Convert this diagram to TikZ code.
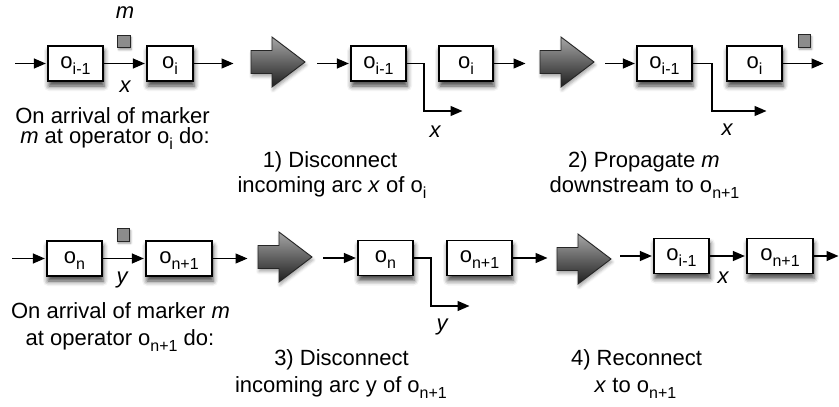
\documentclass[tikz,border=0pt]{standalone}
\usepackage{fontspec}
\setmainfont{Liberation Sans}
\usetikzlibrary{arrows.meta,shadows.blur}
\newcommand{\osub}[1]{\raisebox{-6pt}{\fontsize{16}{16}\selectfont #1}}
\begin{document}
\begin{tikzpicture}[x=1pt,y=-1pt,
  every node/.style={font=\fontsize{22}{24}\selectfont},
  opbox/.style={draw=black, line width=1.3pt, fill=white, inner sep=0pt, minimum height=35pt,
    text height=15pt, text depth=6pt,
    blur shadow={shadow xshift=1pt,shadow yshift=-5pt,shadow blur radius=5pt,shadow opacity=75}},
  conn/.style={line width=1.3pt, shorten >=1.5pt, -{Triangle[length=12pt,width=10pt]}},
  marker/.style={draw=black!85, fill=black!45, line width=1pt, minimum size=12.5pt, inner sep=0pt,
    blur shadow={shadow xshift=1pt,shadow yshift=-2pt,shadow blur radius=2pt,shadow opacity=40}},
  lbl/.style={anchor=base, inner sep=0pt},
  lbli/.style={anchor=base, inner sep=0pt, font=\fontsize{22}{24}\selectfont\itshape},
  bigarr/.pic={\path[draw=black!85, line width=0.9pt, line join=miter, top color=black!35, bottom color=black!88,
      blur shadow={shadow xshift=1pt,shadow yshift=-3pt,shadow blur radius=3pt,shadow opacity=35}]
      (0,-11.5) -- (21,-11.5) -- (21,-25) -- (54,0) -- (21,25) -- (21,11.5) -- (0,11.5) -- cycle;}
]
\useasboundingbox (0,0) rectangle (839,407);

% ---------- Row 1, panel A ----------
\node[opbox, minimum width=55pt] (a1) at (75.5,63.5) {o\osub{i-1}};
\node[opbox, minimum width=46pt] (a2) at (170,63.5) {o\osub{i}};
\coordinate (a0) at (15,63.5);
\coordinate (a3) at (235,63.5);
\draw[conn] (a0) -- (a1.west);
\draw[conn] (a1.east) -- (a2.west);
\draw[conn] (a2.east) -- (a3);
\node[marker] (ma) at (124,41.5) {};
\node[lbli] (mlab) at (125,18) {m};
\node[lbli] (xa) at (125,92) {x};
\node[lbl] (t1a) at (112.5,123) {On arrival of marker};
\node[lbl] (t1b) at (115,143) {\textit{m} at operator o\osub{i} do:};

\pic at (251,62) {bigarr};

% ---------- Row 1, panel B ----------
\node[opbox, minimum width=55pt] (b1) at (378.5,63.5) {o\osub{i-1}};
\node[opbox, minimum width=54pt] (b2) at (466,63.5) {o\osub{i}};
\coordinate (b0) at (317,63.5);
\coordinate (b3) at (527,63.5);
\coordinate (bk) at (424,111);
\coordinate (bx) at (464,111);
\draw[conn] (b0) -- (b1.west);
\draw[conn] (b1.east) -- (b1.east -| bk) |- (bx);
\draw[conn] (b2.east) -- (b3);
\node[lbli] (xb) at (435,137) {x};
\node[lbl] (t2a) at (330,167) {1) Disconnect};
\node[lbl] (t2b) at (332,192) {incoming arc \textit{x} of o\osub{i}};

\pic at (540,62) {bigarr};

% ---------- Row 1, panel C ----------
\node[opbox, minimum width=55pt] (c1) at (664.5,63.5) {o\osub{i-1}};
\node[opbox, minimum width=55pt] (c2) at (754.5,63.5) {o\osub{i}};
\coordinate (c0) at (605,63.5);
\coordinate (c3) at (825,63.5);
\coordinate (ck) at (712,111);
\coordinate (cx) at (768,111);
\draw[conn] (c0) -- (c1.west);
\draw[conn] (c1.east) -- (c1.east -| ck) |- (cx);
\draw[conn] (c2.east) -- (c3);
\node[marker] (mc) at (804.5,41) {};
\node[lbli] (xc) at (727,135) {x};
\node[lbl] (t3a) at (644,167) {2) Propagate \textit{m}};
\node[lbl] (t3b) at (644.5,192) {downstream to o\osub{n+1}};

% ---------- Row 2, panel D ----------
\node[opbox, minimum width=55pt] (d1) at (74.5,258.5) {o\osub{n}};
\node[opbox, minimum width=66pt] (d2) at (179,258.5) {o\osub{n+1}};
\coordinate (d0) at (12,258.5);
\coordinate (d3) at (249,258.5);
\draw[conn] (d0) -- (d1.west);
\draw[conn] (d1.east) -- (d2.west);
\draw[conn] (d2.east) -- (d3);
\node[marker] (md) at (123.5,235) {};
\node[lbli] (yd) at (122,283) {y};
\node[lbl] (t4a) at (120.5,318) {On arrival of marker \textit{m}};
\node[lbl] (t4b) at (120,345) {at operator o\osub{n+1} do:};

\pic at (258,257) {bigarr};

% ---------- Row 2, panel E ----------
\node[opbox, minimum width=55pt] (e1) at (385.5,258) {o\osub{n}};
\node[opbox, minimum width=65pt] (e2) at (479.5,258) {o\osub{n+1}};
\coordinate (e0) at (323,258);
\coordinate (e3) at (549,258);
\coordinate (ek) at (431,306);
\coordinate (ex) at (471,306);
\draw[conn] (e0) -- (e1.west);
\draw[conn] (e1.east) -- (e1.east -| ek) |- (ex);
\draw[conn] (e2.east) -- (e3);
\node[lbli] (ye) at (442,330) {y};
\node[lbl] (t5a) at (341.5,365) {3) Disconnect};
\node[lbl] (t5b) at (341,392) {incoming arc y of o\osub{n+1}};

\pic at (557,259) {bigarr};

% ---------- Row 2, panel F ----------
\node[opbox, minimum width=55pt] (f1) at (681.5,256) {o\osub{i-1}};
\node[opbox, minimum width=66pt] (f2) at (780,256) {o\osub{n+1}};
\coordinate (f0) at (620,256);
\coordinate (f3) at (840,256);
\draw[conn] (f0) -- (f1.west);
\draw[conn] (f1.east) -- (f2.west);
\draw[conn] (f2.east) -- (f3);
\node[lbli] (xf) at (723,283) {x};
\node[lbl] (t6a) at (636.5,365) {4) Reconnect};
\node[lbl] (t6b) at (635.5,392) {\textit{x} to o\osub{n+1}};
\end{tikzpicture}
\end{document}
